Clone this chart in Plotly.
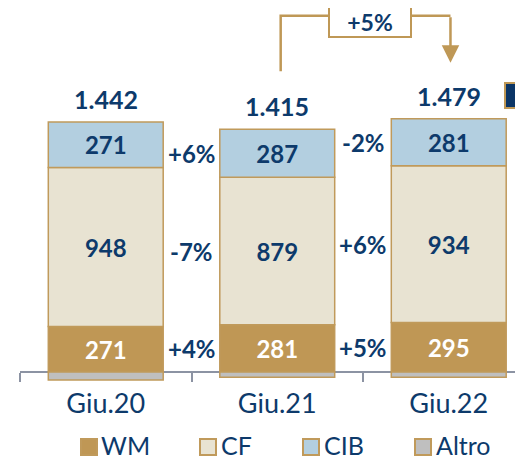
import plotly.graph_objects as go

categories = ["Giu.20", "Giu.21", "Giu.22"]
wm = [271, 281, 295]
cf = [948, 879, 934]
cib = [271, 287, 281]
altro = [-48, -32, -31]
totals = [1442, 1415, 1479]
series_names = ["WM", "CF", "CIB", "Altro"]

NAVY = "#0d3a6b"
GOLD = "#bf9856"
BORDER = "#c09a5b"
GRAY_AX = "#8c93a3"
colors = {"WM": "#bf9755", "CF": "#e8e3d2", "CIB": "#b3cfe0", "Altro": "#bfbfbf"}
FONT = "Lato"

OFF = 8  # default page body margin
W, H = 523 - OFF, 462 - OFF
ML, MR, MT, MB = 20 - OFF, 0, 0, 462 - 390
PW, PH = W - ML - MR, H - MT - MB
UPP = 5.96                       # data units per pixel
Y1 = (372 - OFF - MT) * UPP
Y0 = -(MT + PH - (372 - OFF)) * UPP
CAT_PX = 171.5
X0 = -0.5
X1 = X0 + PW / CAT_PX


def px_x(px):
    return (px - OFF - ML) / PW


def px_y(py):
    return 1 - (py - OFF - MT) / PH


fig = go.Figure()
data = {"WM": wm, "CF": cf, "CIB": cib, "Altro": altro}
for name in series_names:
    vals = data[name]
    txt = [""] * len(vals) if name == "Altro" else [f"<b>{v}</b>" for v in vals]
    fig.add_trace(go.Bar(
        x=categories, y=vals, name=name, width=0.67,
        marker=dict(color=colors[name], line=dict(color=BORDER, width=1.5)),
        text=txt, textposition="inside", insidetextanchor="middle",
        textangle=0, constraintext="none",
        textfont=dict(family=FONT, size=24,
                      color="white" if name == "WM" else NAVY),
        showlegend=False, hoverinfo="skip",
    ))

annotations = []
pos_sum = [a + b + c for a, b, c in zip(wm, cf, cib)]
for i, t in enumerate(totals):
    annotations.append(dict(
        x=categories[i], y=pos_sum[i], yanchor="bottom", yshift=6,
        text="<b>" + f"{t:,}".replace(",", ".") + "</b>", showarrow=False,
        font=dict(family=FONT, size=25, color=NAVY)))

# growth labels between bars, centred on the right bar's segment
centers = {
    "WM": [v / 2 for v in wm],
    "CF": [w + v / 2 for w, v in zip(wm, cf)],
    "CIB": [w + c + v / 2 for w, c, v in zip(wm, cf, cib)],
}
for name in ["WM", "CF", "CIB"]:
    vals = data[name]
    for i in range(len(vals) - 1):
        g = (vals[i + 1] / vals[i] - 1) * 100
        annotations.append(dict(
            x=i + 0.5, y=centers[name][i + 1], xref="x", yref="y",
            text=f"<b>{g:+.0f}%</b>", showarrow=False,
            font=dict(family=FONT, size=24, color=NAVY)))

# bracket Giu.21 -> Giu.22
tot_g = (totals[2] / totals[1] - 1) * 100
br_y = max(pos_sum) + (119 - 16) * UPP
line_bot = pos_sum[1] + (129 - 71) * UPP
tip_y = pos_sum[2] + (119 - 63) * UPP
shapes = [dict(type="path", xref="x", yref="y",
               path=f"M 1.02,{line_bot} L 1.02,{br_y} L 2.01,{br_y}",
               line=dict(color=GOLD, width=2.5), layer="above")]
annotations.append(dict(
    x=2.01, y=tip_y, ax=2.01, ay=br_y, axref="x", ayref="y", xref="x", yref="y",
    text="", showarrow=True, arrowhead=2, arrowsize=1.4, arrowwidth=2.5,
    arrowcolor=GOLD, standoff=0))
annotations.append(dict(
    x=1.5, y=br_y, xref="x", yref="y", xshift=7, yshift=-6,
    text=f"<b>{tot_g:+.0f}%</b>", showarrow=False, width=78, height=26,
    bgcolor="white", bordercolor=GOLD, borderwidth=2, borderpad=1,
    font=dict(family=FONT, size=23, color=NAVY)))

# partial legend square of neighbouring panel at right edge
shapes.append(dict(type="rect", xref="paper", yref="paper",
                   x0=px_x(505), x1=px_x(535), y0=px_y(108), y1=px_y(83),
                   fillcolor="#0b3566", line=dict(color=GOLD, width=2)))

# manual legend
leg_sq = [81, 200, 303, 415]
leg_tx = [99, 219, 322, 434]
for name, sx, tx in zip(series_names, leg_sq, leg_tx):
    shapes.append(dict(type="rect", xref="paper", yref="paper",
                       x0=px_x(sx), x1=px_x(sx + 16), y0=px_y(455), y1=px_y(439),
                       fillcolor=colors[name], line=dict(color=BORDER, width=2)))
    annotations.append(dict(
        x=px_x(tx), y=px_y(445), xref="paper", yref="paper",
        xanchor="left", yanchor="middle", text=name, showarrow=False,
        font=dict(family=FONT, size=25, color=NAVY)))

fig.update_layout(
    width=W, height=H, margin=dict(l=ML, r=MR, t=MT, b=MB),
    barmode="relative", bargap=0.33,
    plot_bgcolor="white", paper_bgcolor="white",
    annotations=annotations, shapes=shapes,
    xaxis=dict(type="category", categoryorder="array", categoryarray=categories,
               range=[X0, X1], anchor="free",
               position=(0 - Y0) / (Y1 - Y0),
               showline=True, linecolor=GRAY_AX, linewidth=2,
               ticks="outside", tickson="boundaries", ticklen=9, tickwidth=2,
               tickcolor=GRAY_AX, ticklabelstandoff=8,
               tickfont=dict(family=FONT, size=27, color=NAVY),
               showgrid=False, zeroline=False, layer="below traces",
               fixedrange=True),
    yaxis=dict(range=[Y0, Y1], visible=False, showgrid=False, zeroline=False,
               fixedrange=True),
)

fig.write_html("out.html")
